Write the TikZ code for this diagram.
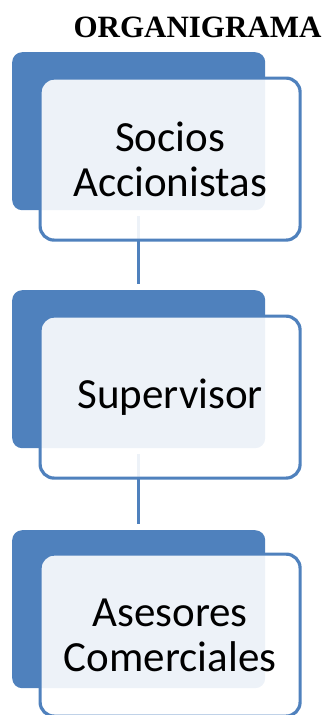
\documentclass[tikz,border=0pt]{standalone}
\usepackage{fontspec}
\setmainfont{Carlito}
\newfontfamily\titlefont{Liberation Serif}
\definecolor{obl}{HTML}{4F81BD}
\begin{document}
\begin{tikzpicture}[x=1pt,y=-1pt,
  backbox/.style={fill=obl, rounded corners=10pt, minimum width=253pt, minimum height=158pt, inner sep=0pt, anchor=north west},
  frontbox/.style={draw=obl, line width=3.2pt, fill=white, fill opacity=0.9, text opacity=1, rounded corners=14pt, minimum width=260pt, minimum height=162pt, inner sep=0pt, anchor=north west, align=center, font=\fontsize{43}{45}\selectfont, text=black},
  link/.style={draw=obl, line width=3pt, shorten <=6pt, shorten >=6pt}]
\useasboundingbox (0,0) rectangle (330,715);
\node[anchor=base, font=\titlefont\bfseries\fontsize{31}{31}\selectfont] (title) at (197.5,37) {ORGANIGRAMA};
% back boxes
\node[backbox] (b1) at (12,52) {};
\node[backbox] (b2) at (12,290) {};
\node[backbox] (b3) at (12,530) {};
% connectors
\draw[link] (b1.south) -- (b2.north);
\draw[link] (b2.south) -- (b3.north);
% front boxes
\node[frontbox] (f1) at (38.5,76.5) {Socios\\Accionistas};
\node[frontbox] (f2) at (38.5,314.5) {Supervisor};
\node[frontbox] (f3) at (38.5,552.5) {Asesores\\Comerciales};
\end{tikzpicture}
\end{document}
